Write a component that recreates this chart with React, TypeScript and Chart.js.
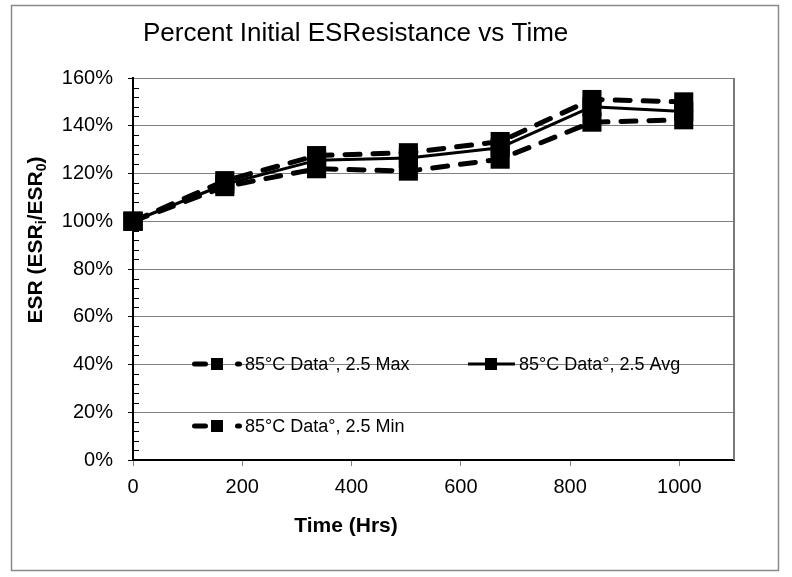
import React, { useEffect, useRef } from "react";
import { Chart, registerables } from "chart.js";

Chart.register(...registerables);

const hours = [0, 168, 336, 504, 672, 840, 1008];
const maxValues = [100, 117, 127.5, 128.7, 133.4, 151, 150];
const avgValues = [100, 115.5, 125.5, 126.5, 130.8, 148, 146];
const minValues = [100, 114.5, 122, 121, 126, 141.5, 142.5];
const seriesLabels = ["85°C Data°, 2.5 Max", "85°C Data°, 2.5 Avg", "85°C Data°, 2.5 Min"];
const xTicksStep = 200;
const yTicksStep = 20;
const titleText = "Percent Initial ESResistance vs Time";
const xTitle = "Time (Hrs)";

const FONT = '"Liberation Sans", Arial, sans-serif';

const decorPlugin = {
  id: "decor",
  beforeDraw(chart: any) {
    const { ctx, width, height } = chart;
    ctx.save();
    ctx.fillStyle = "#fff";
    ctx.fillRect(0, 0, width, height);
    ctx.strokeStyle = "#8a8a8a";
    ctx.lineWidth = 1.5;
    ctx.strokeRect(11.5, 5.5, 767, 565);
    ctx.restore();
  },
  beforeDatasetsDraw(chart: any) {
    const { ctx, chartArea, scales } = chart;
    const y = scales.y;
    ctx.save();
    ctx.strokeStyle = "#7a7a7a";
    ctx.lineWidth = 2;
    ctx.beginPath();
    ctx.moveTo(chartArea.right, chartArea.top);
    ctx.lineTo(chartArea.right, chartArea.bottom);
    ctx.stroke();
    ctx.strokeStyle = "#000";
    ctx.lineWidth = 1;
    for (let v = 0; v <= 160; v += 4) {
      if (v % yTicksStep === 0) continue;
      const py = Math.round(y.getPixelForValue(v)) + 0.5;
      ctx.beginPath();
      ctx.moveTo(chartArea.left, py);
      ctx.lineTo(chartArea.left + 6, py);
      ctx.stroke();
    }
    ctx.restore();
  },
  afterDraw(chart: any) {
    const { ctx } = chart;
    ctx.save();
    ctx.fillStyle = "#000";
    ctx.font = `26px ${FONT}`;
    ctx.textAlign = "left";
    ctx.textBaseline = "alphabetic";
    ctx.fillText(titleText, 143, 41);
    ctx.font = `bold 21px ${FONT}`;
    ctx.textAlign = "center";
    ctx.textBaseline = "middle";
    ctx.fillText(xTitle, 346, 526);
    ctx.save();
    ctx.translate(35, 240);
    ctx.rotate(-Math.PI / 2);
    const parts: [string, boolean][] = [
      ["ESR (ESR", false],
      ["i", true],
      ["/ESR", false],
      ["0", true],
      [")", false],
    ];
    const big = `bold 21px ${FONT}`;
    const small = `bold 14px ${FONT}`;
    let total = 0;
    for (const [t, sub] of parts) {
      ctx.font = sub ? small : big;
      total += ctx.measureText(t).width;
    }
    let x = -total / 2;
    ctx.textAlign = "left";
    ctx.textBaseline = "alphabetic";
    for (const [t, sub] of parts) {
      ctx.font = sub ? small : big;
      ctx.fillText(t, x, sub ? 11 : 7);
      x += ctx.measureText(t).width;
    }
    ctx.restore();

    const ds = chart.data.datasets;
    const entries = [
      { i: 0, x: 192, y: 364 },
      { i: 1, x: 468, y: 364 },
      { i: 2, x: 192, y: 426 },
    ];
    for (const e of entries) {
      const d = ds[e.i];
      ctx.strokeStyle = "#000";
      ctx.fillStyle = "#000";
      ctx.lineCap = "round";
      let textX: number;
      if (d.borderDash && d.borderDash.length) {
        ctx.lineWidth = d.borderWidth;
        ctx.beginPath();
        ctx.moveTo(e.x + 2.5, e.y);
        ctx.lineTo(e.x + 13.5, e.y);
        ctx.moveTo(e.x + 45.5, e.y);
        ctx.lineTo(e.x + 47.5, e.y);
        ctx.stroke();
        ctx.fillRect(e.x + 19, e.y - 6, 12, 12);
        textX = e.x + 53;
      } else {
        ctx.lineCap = "butt";
        ctx.lineWidth = d.borderWidth;
        ctx.beginPath();
        ctx.moveTo(e.x, e.y);
        ctx.lineTo(e.x + 47, e.y);
        ctx.stroke();
        ctx.fillRect(e.x + 17, e.y - 6, 12, 12);
        textX = e.x + 51;
      }
      ctx.font = `18px ${FONT}`;
      ctx.textAlign = "left";
      ctx.textBaseline = "middle";
      ctx.fillText(d.label, textX, e.y + 1);
    }
    ctx.restore();
  },
};

function makeDataset(label: string, values: number[], dashed: boolean) {
  return {
    label,
    data: hours.map((h, i) => ({ x: h, y: values[i] })),
    borderColor: "#000",
    backgroundColor: "#000",
    borderWidth: dashed ? 5 : 3,
    borderDash: dashed ? [15, 13] : [],
    borderCapStyle: dashed ? "round" : "butt",
    borderJoinStyle: "round",
    pointStyle: "rect",
    pointRadius: 13.5,
    pointBorderWidth: 0,
    pointBackgroundColor: "#000",
    tension: 0,
    clip: false,
  };
}

export default function App() {
  const ref = useRef<HTMLCanvasElement | null>(null);
  useEffect(() => {
    document.body.style.margin = "0";
    const canvas = ref.current!;
    const chart = new Chart(canvas, {
      type: "line",
      data: {
        datasets: [
          makeDataset(seriesLabels[0], maxValues, true),
          makeDataset(seriesLabels[1], avgValues, false),
          makeDataset(seriesLabels[2], minValues, true),
        ] as any,
      },
      options: {
        animation: false,
        responsive: false,
        devicePixelRatio: 1,
        layout: { padding: { top: 78, right: 58, bottom: 0, left: 0 } },
        plugins: {
          legend: { display: false },
          title: { display: false },
          tooltip: { enabled: false },
        },
        scales: {
          x: {
            type: "linear",
            min: 0,
            max: 1100,
            ticks: {
              stepSize: xTicksStep,
              includeBounds: false,
              color: "#000",
              font: { family: FONT, size: 20 },
              padding: 9,
              maxRotation: 0,
              callback: (v: any) => String(v),
            },
            grid: {
              drawOnChartArea: false,
              drawTicks: true,
              tickLength: 6,
              tickColor: "#808080",
            },
            border: { color: "#000", width: 2 },
            afterFit: (s: any) => {
              s.height = 117;
            },
          },
          y: {
            type: "linear",
            min: 0,
            max: 160,
            ticks: {
              stepSize: yTicksStep,
              color: "#000",
              font: { family: FONT, size: 20 },
              padding: 15,
              callback: (v: any) => v + "%",
            },
            grid: {
              color: "#808080",
              lineWidth: 1,
              drawTicks: true,
              tickLength: 5,
              tickColor: "#000",
            },
            border: { color: "#000", width: 2 },
            afterFit: (s: any) => {
              s.width = 133;
            },
          },
        },
      } as any,
      plugins: [decorPlugin],
    });
    return () => chart.destroy();
  }, []);
  return (
    <div style={{ width: 792, height: 577 }}>
      <canvas ref={ref} width={792} height={577} style={{ display: "block" }} />
    </div>
  );
}
